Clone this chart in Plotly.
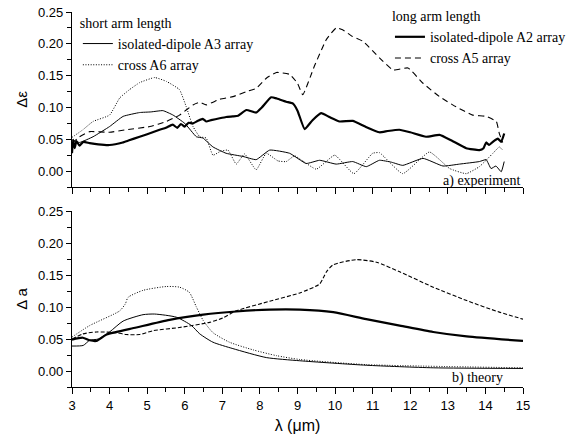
import plotly.graph_objects as go

# ---------------- data: a) experiment ----------------
exp_A2_x = [3.0, 3.03, 3.07, 3.12, 3.2, 3.3, 3.47, 3.7, 4.0, 4.35, 4.5, 4.8, 5.0, 5.33, 5.5, 5.68, 5.8, 5.9,
            6.0, 6.1, 6.22, 6.35, 6.48, 6.57, 6.7, 6.93, 7.1, 7.28, 7.42, 7.64, 7.9, 8.05, 8.3, 8.45, 8.7,
            8.88, 9.0, 9.19, 9.4, 9.63, 9.85, 10.12, 10.47, 10.8, 11.18, 11.4, 11.71, 12.0, 12.42, 12.78,
            13.1, 13.49, 13.84, 13.95, 14.02, 14.1, 14.2, 14.33, 14.42, 14.5]
exp_A2_y = [0.028, 0.049, 0.036, 0.047, 0.040, 0.046, 0.044, 0.042, 0.041, 0.045, 0.048, 0.054, 0.058, 0.065,
            0.068, 0.073, 0.068, 0.074, 0.070, 0.076, 0.075, 0.079, 0.082, 0.078, 0.080, 0.083, 0.085, 0.086,
            0.087, 0.096, 0.092, 0.100, 0.116, 0.114, 0.109, 0.106, 0.095, 0.066, 0.080, 0.091, 0.085, 0.078,
            0.079, 0.070, 0.061, 0.063, 0.065, 0.061, 0.054, 0.057, 0.048, 0.036, 0.033, 0.036, 0.045, 0.041,
            0.046, 0.051, 0.046, 0.059]

exp_A5_x = [3.0, 3.2, 3.47, 4.0, 4.45, 5.07, 5.51, 5.86, 6.22, 6.4, 6.57, 6.93, 7.28, 7.64, 7.9, 8.17, 8.44,
            8.79, 9.0, 9.14, 9.45, 9.77, 10.03, 10.2, 10.45, 10.74, 11.18, 11.54, 11.94, 12.34, 12.78, 13.22,
            13.66, 14.02, 14.29, 14.37, 14.46]
exp_A5_y = [0.044, 0.054, 0.062, 0.061, 0.065, 0.070, 0.078, 0.088, 0.104, 0.108, 0.104, 0.113, 0.117, 0.125,
            0.130, 0.146, 0.155, 0.152, 0.138, 0.120, 0.165, 0.207, 0.225, 0.222, 0.212, 0.204, 0.178, 0.159,
            0.162, 0.138, 0.117, 0.101, 0.088, 0.086, 0.078, 0.059, 0.045]

exp_A3_x = [3.0, 3.2, 3.56, 4.0, 4.36, 4.8, 5.1, 5.42, 5.69, 6.0, 6.31, 6.48, 6.75, 7.1, 7.55, 7.9, 8.26, 8.79,
            9.23, 9.59, 10.03, 10.47, 10.83, 11.18, 11.5, 11.8, 12.34, 12.87, 13.31, 13.84, 14.02, 14.15,
            14.28, 14.42, 14.5]
exp_A3_y = [0.049, 0.045, 0.054, 0.070, 0.086, 0.092, 0.093, 0.095, 0.088, 0.075, 0.054, 0.052, 0.038, 0.028,
            0.023, 0.018, 0.033, 0.028, 0.012, 0.017, 0.011, 0.015, 0.007, 0.017, 0.014, 0.009, 0.020, 0.008,
            0.011, 0.015, 0.018, 0.004, 0.008, -0.001, 0.015]

exp_A6_x = [3.0, 3.29, 3.56, 4.0, 4.27, 4.53, 4.8, 5.2, 5.51, 5.86, 6.04, 6.22, 6.4, 6.57, 6.75, 6.95, 7.15,
            7.37, 7.59, 7.9, 8.17, 8.48, 8.7, 8.92, 9.14, 9.5, 9.99, 10.5, 11.0, 11.18, 11.8, 12.51, 13.05,
            13.49, 13.84, 14.2, 14.37, 14.46]
exp_A6_y = [0.053, 0.065, 0.078, 0.088, 0.115, 0.128, 0.139, 0.147, 0.141, 0.128, 0.101, 0.070, 0.054, 0.052,
            0.025, 0.031, 0.033, 0.011, 0.027, 0.002, 0.028, 0.016, 0.015, 0.024, 0.016, 0.003, 0.025, -0.004,
            0.028, 0.029, -0.004, 0.030, 0.004, -0.004, 0.007, 0.028, 0.038, 0.033]

# ---------------- data: b) theory ----------------
th_A2_x = [3.0, 3.29, 3.47, 3.65, 3.92, 4.71, 5.6, 6.49, 7.37, 8.26, 9.06, 9.95, 10.83, 11.72, 12.61, 13.5, 15.0]
th_A2_y = [0.049, 0.052, 0.048, 0.047, 0.057, 0.068, 0.080, 0.088, 0.093, 0.096, 0.096, 0.092, 0.081, 0.071,
           0.061, 0.054, 0.047]

th_A3_x = [3.0, 3.3, 3.47, 3.7, 4.0, 4.36, 4.89, 5.2, 5.78, 6.18, 6.4, 6.75, 7.28, 8.17, 9.06, 10.83, 12.61, 15.0]
th_A3_y = [0.039, 0.040, 0.048, 0.050, 0.061, 0.078, 0.088, 0.089, 0.084, 0.071, 0.058, 0.045, 0.035, 0.021,
           0.016, 0.009, 0.005, 0.004]

th_A6_x = [3.0, 3.47, 4.27, 4.42, 4.49, 4.89, 5.51, 5.86, 6.12, 6.31, 6.49, 6.75, 7.19, 7.82, 8.44, 9.06, 10.83, 15.0]
th_A6_y = [0.053, 0.071, 0.094, 0.105, 0.115, 0.126, 0.132, 0.131, 0.123, 0.100, 0.079, 0.060, 0.045, 0.033,
           0.024, 0.018, 0.010, 0.005]

th_A5_x = [3.0, 3.29, 3.65, 4.18, 4.44, 4.8, 5.16, 5.86, 6.66, 7.02, 7.37, 8.26, 9.06, 9.59, 9.77, 9.95, 10.57,
           11.1, 11.72, 12.61, 13.5, 14.37, 15.0]
th_A5_y = [0.050, 0.058, 0.061, 0.060, 0.057, 0.057, 0.063, 0.068, 0.076, 0.083, 0.094, 0.109, 0.122, 0.136,
           0.155, 0.166, 0.174, 0.170, 0.155, 0.131, 0.110, 0.092, 0.081]

x_ticks = [3, 4, 5, 6, 7, 8, 9, 10, 11, 12, 13, 14, 15]
y_ticks = [0.00, 0.05, 0.10, 0.15, 0.20, 0.25]

SERIF = "Liberation Serif"
SANS = "Liberation Sans"

fig = go.Figure()

def add(x, y, name, width, dash, xa, ya, legend=None, show=True, smooth=0.4):
    fig.add_trace(go.Scatter(
        x=x, y=y, name=name, mode="lines",
        line=dict(color="black", width=width, dash=dash, shape="spline", smoothing=smooth),
        xaxis=xa, yaxis=ya, showlegend=show, legend=legend))

DOT = "1px,1.6px"
# experiment
add(exp_A3_x, exp_A3_y, "isolated-dipole A3 array", 1.0, "solid", "x", "y", "legend")
add(exp_A6_x, exp_A6_y, "cross A6 array", 1.0, DOT, "x", "y", "legend")
add(exp_A2_x, exp_A2_y, "isolated-dipole A2 array", 2.2, "solid", "x", "y", "legend2")
add(exp_A5_x, exp_A5_y, "cross A5 array", 1.1, "6px,4px", "x", "y", "legend2")
# theory
add(th_A3_x, th_A3_y, "A3", 1.0, "solid", "x2", "y2", show=False, smooth=0.6)
add(th_A6_x, th_A6_y, "A6", 1.0, DOT, "x2", "y2", show=False, smooth=0.6)
add(th_A2_x, th_A2_y, "A2", 2.2, "solid", "x2", "y2", show=False, smooth=0.6)
add(th_A5_x, th_A5_y, "A5", 1.1, "4px,2px", "x2", "y2", show=False, smooth=0.6)

xcommon = dict(range=[3, 15], tickvals=x_ticks, ticks="outside", ticklen=6, tickwidth=1, tickcolor="black",
               showline=True, linecolor="black", linewidth=1.2, showgrid=False, zeroline=False, automargin=False,
               minor=dict(dtick=0.5, tick0=3, ticks="outside", ticklen=4, tickcolor="black", showgrid=False),
               tickfont=dict(family=SANS, size=13, color="black"))
ycommon = dict(range=[-0.025, 0.25], tickvals=y_ticks, tickformat=".2f", ticks="outside", ticklen=5,
               tickwidth=1, tickcolor="black", showline=True, linecolor="black", linewidth=1.2,
               showgrid=False, zeroline=False, automargin=False,
               minor=dict(dtick=0.025, tick0=0, ticks="outside", ticklen=4, tickcolor="black", showgrid=False),
               tickfont=dict(family=SANS, size=13, color="black"))

fig.update_layout(
    width=585, height=438,
    margin=dict(l=72, r=62, t=12, b=51, autoexpand=False),
    paper_bgcolor="white", plot_bgcolor="white",
    xaxis=dict(**xcommon, anchor="y", showticklabels=False),
    yaxis=dict(**ycommon, domain=[0.5333, 1.0], anchor="x",
               title=dict(text="Δε", font=dict(family=SANS, size=15, color="black"), standoff=6)),
    xaxis2=dict(**xcommon, anchor="y2", showticklabels=True,
                title=dict(text="λ (μm)", font=dict(family=SANS, size=16, color="black"), standoff=8)),
    yaxis2=dict(**ycommon, domain=[0.0, 0.4693], anchor="x2",
                title=dict(text="Δ a", font=dict(family=SANS, size=15, color="black"), standoff=6)),
    legend=dict(title=dict(text="short arm length", font=dict(family=SERIF, size=14, color="black")),
                x=0.013, y=1.006, xanchor="left", yanchor="top", bgcolor="rgba(0,0,0,0)",
                font=dict(family=SERIF, size=14, color="black"), tracegroupgap=0),
    legend2=dict(title=dict(text="long arm length", font=dict(family=SERIF, size=14, color="black")),
                 x=0.705, y=1.024, xanchor="left", yanchor="top", bgcolor="rgba(0,0,0,0)",
                 font=dict(family=SERIF, size=14, color="black"), tracegroupgap=0),
    annotations=[
        dict(text="a) experiment", xref="paper", yref="paper", x=0.998, y=0.5333, xanchor="right",
             yanchor="bottom", showarrow=False, font=dict(family=SERIF, size=14, color="black"), yshift=-4),
        dict(text="b) theory", xref="paper", yref="paper", x=0.959, y=0.0, xanchor="right",
             yanchor="bottom", showarrow=False, font=dict(family=SERIF, size=14, color="black"), yshift=-1),
    ],
)

fig.write_html("out.html", config={"displayModeBar": False},
               post_script="document.body.style.margin='0';")
